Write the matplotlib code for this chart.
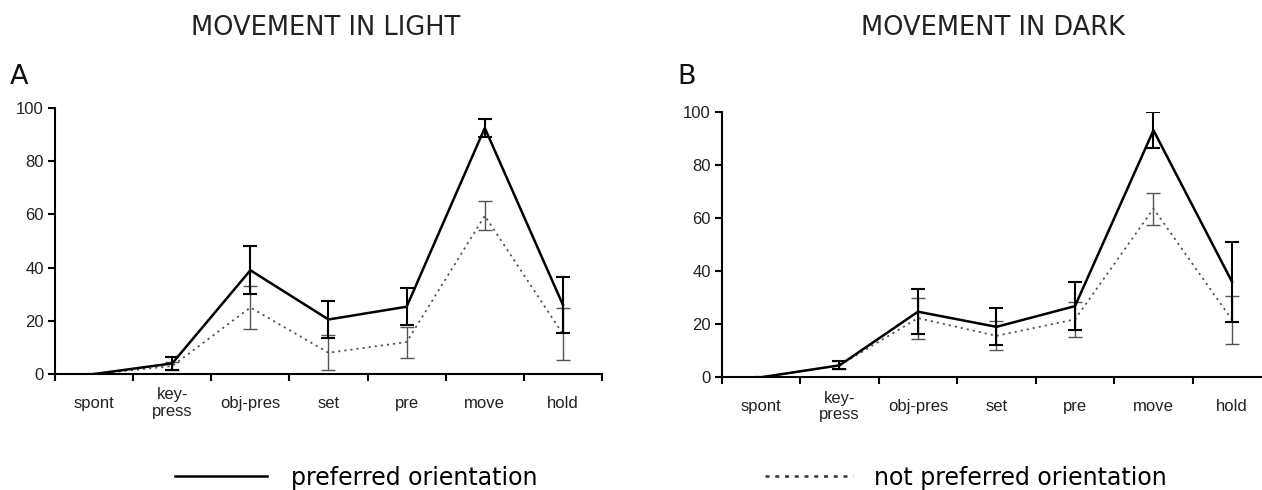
import numpy as np
import matplotlib
matplotlib.use("Agg")
from matplotlib import pyplot as plt
from matplotlib.lines import Line2D

# categories along the x axis
phases = ["spont", "key-\npress", "obj-pres", "set", "pre", "move", "hold"]

# movement in light (panel A)
light_pref = [0, 4, 39, 20.5, 25.3, 92.5, 26]
light_pref_err = [0, 2.5, 9, 7, 7, 3.5, 10.5]
light_nonpref = [0, 3, 25, 8, 12, 59.5, 15]
light_nonpref_err = [0, 1.5, 8, 6.5, 5.8, 5.5, 9.7]

# movement in dark (panel B)
dark_pref = [0, 4.5, 24.7, 19, 26.8, 93, 36]
dark_pref_err = [0, 1.5, 8.5, 7, 9, 6.8, 15]
dark_nonpref = [0, 4.5, 22.3, 15.6, 21.8, 63.5, 21.7]
dark_nonpref_err = [0, 1.5, 7.7, 5.5, 6.6, 6, 9]

titles = ["MOVEMENT IN LIGHT", "MOVEMENT IN DARK"]
letters = ["A", "B"]
legend_labels = ["preferred orientation", "not preferred orientation"]

tick_font = "Liberation Sans"
deco_font = "DejaVu Sans"
grey = "#555555"

fig = plt.figure(figsize=(12.62, 4.90), dpi=100)
axA = fig.add_axes([0.0436, 0.2367, 0.4334, 0.5429])
axB = fig.add_axes([0.5719, 0.2300, 0.4354, 0.5420])

panels = [
    (axA, light_pref, light_pref_err, light_nonpref, light_nonpref_err),
    (axB, dark_pref, dark_pref_err, dark_nonpref, dark_nonpref_err),
]

x = np.arange(len(phases)) + 0.5

for i, (ax, pref, pref_err, npref, npref_err) in enumerate(panels):
    ax.errorbar(x, npref, yerr=npref_err, color=grey, lw=1.3, ls=(0, (1.2, 2.2)),
                elinewidth=1.0, capsize=5, capthick=1.0, ecolor=grey, zorder=2)
    ax.errorbar(x, pref, yerr=pref_err, color="black", lw=1.8, ls="-",
                elinewidth=1.5, capsize=5, capthick=1.5, ecolor="black", zorder=3)

    ax.set_xlim(0, len(phases))
    ax.set_ylim(0, 100)
    ax.set_yticks([0, 20, 40, 60, 80, 100])
    ax.set_xticks(np.arange(len(phases) + 1))
    ax.set_xticklabels([])
    ax.set_xticks(x, minor=True)
    ax.set_xticklabels(phases, minor=True, fontsize=12, family=tick_font,
                       color="#222222", linespacing=1.15, va="center")
    ax.tick_params(axis="x", which="minor", length=0, pad=21)
    ax.tick_params(axis="x", which="major", direction="out", length=5, width=1.5)
    ax.tick_params(axis="y", direction="out", length=5, width=1.5, pad=3)
    for lbl in ax.get_yticklabels():
        lbl.set_fontsize(12)
        lbl.set_family(tick_font)
        lbl.set_color("#222222")
    for s in ["top", "right"]:
        ax.spines[s].set_visible(False)
    for s in ["left", "bottom"]:
        ax.spines[s].set_linewidth(1.5)
    ax.spines["bottom"].set_zorder(4)

fig.text(0.2583, 0.943, titles[0], ha="center", va="center", fontsize=18.5,
         family=deco_font, color="#222222")
fig.text(0.787, 0.943, titles[1], ha="center", va="center", fontsize=18.5,
         family=deco_font, color="#222222")
fig.text(0.008, 0.843, letters[0], ha="left", va="center", fontsize=19.5,
         family=deco_font, color="#111111")
fig.text(0.537, 0.843, letters[1], ha="left", va="center", fontsize=19.5,
         family=deco_font, color="#111111")

h1 = Line2D([], [], color="black", lw=1.8)
h2 = Line2D([], [], color="#333333", lw=1.8, ls=(0, (1.6, 2.3)))
fig.legend([h1], [legend_labels[0]], loc="center left",
           bbox_to_anchor=(0.122, 0.025), frameon=False, handlelength=3.9,
           handletextpad=1.0, prop={"family": deco_font, "size": 17})
fig.legend([h2], [legend_labels[1]], loc="center left",
           bbox_to_anchor=(0.5895, 0.025), frameon=False, handlelength=3.7,
           handletextpad=0.9, prop={"family": deco_font, "size": 17})

fig.savefig("out.png", dpi=100)
